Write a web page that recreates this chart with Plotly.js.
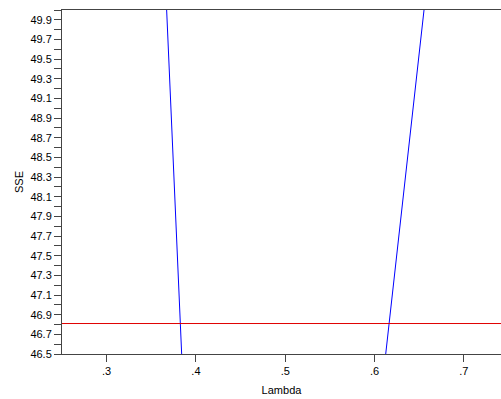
<!DOCTYPE html>
<html>
<head>
<meta charset="utf-8">
<script src="https://cdn.plot.ly/plotly-3.0.1.min.js"></script>
<style>html,body{margin:0;padding:0;background:#fff;}#chart{width:501px;height:399px;}</style>
</head>
<body>
<div id="chart"></div>
<script>
// SSE vs lambda (only part of the curve falls within the visible window)
const lambda = [0.3, 0.4, 0.6, 0.7];
const sse = [63.98, 43.17, 45.48, 53.64];
const threshold = 46.81;
const xTickVals = [0.3, 0.4, 0.5, 0.6, 0.7];
const xTickText = ['.3', '.4', '.5', '.6', '.7'];
const yTickVals = [46.5, 46.7, 46.9, 47.1, 47.3, 47.5, 47.7, 47.9, 48.1, 48.3, 48.5, 48.7, 48.9, 49.1, 49.3, 49.5, 49.7, 49.9];
const yTickText = yTickVals.map(v => v.toFixed(1));

const axisColor = '#444';
const font = {family: 'Liberation Sans, Arial, sans-serif', size: 11, color: '#000'};

const data = [{
  x: lambda, y: sse, type: 'scatter', mode: 'lines',
  line: {color: '#0000ff', width: 1}, hoverinfo: 'skip', showlegend: false
}];

const layout = {
  width: 501, height: 399,
  margin: {l: 62, r: 0, t: 10, b: 45, pad: 0},
  paper_bgcolor: '#fff', plot_bgcolor: '#fff',
  font: font,
  showlegend: false,
  xaxis: {
    range: [0.25, 0.7416], showgrid: false, zeroline: false,
    showline: true, linecolor: axisColor, linewidth: 1, mirror: true,
    ticks: 'outside', ticklen: 7, tickcolor: axisColor, tickwidth: 1,
    tickvals: xTickVals, ticktext: xTickText, tickfont: font,
    title: {text: 'Lambda', font: font, standoff: 10}
  },
  yaxis: {
    range: [46.5, 50.0], showgrid: false, zeroline: false,
    showline: true, linecolor: axisColor, linewidth: 1,
    ticks: 'outside', ticklen: 7, tickcolor: axisColor, tickwidth: 1,
    tickvals: yTickVals, ticktext: yTickText, tickfont: font,
    minor: {dtick: 0.1, tick0: 46.5, ticks: 'outside', ticklen: 7, tickcolor: axisColor, tickwidth: 1, showgrid: false},
    title: {text: 'SSE', font: font, standoff: 4}
  },
  shapes: [{
    type: 'line', xref: 'paper', x0: 0, x1: 1, yref: 'y', y0: threshold, y1: threshold,
    line: {color: '#e00000', width: 1}
  }]
};

Plotly.newPlot('chart', data, layout, {displayModeBar: false, staticPlot: true});
</script>
</body>
</html>
